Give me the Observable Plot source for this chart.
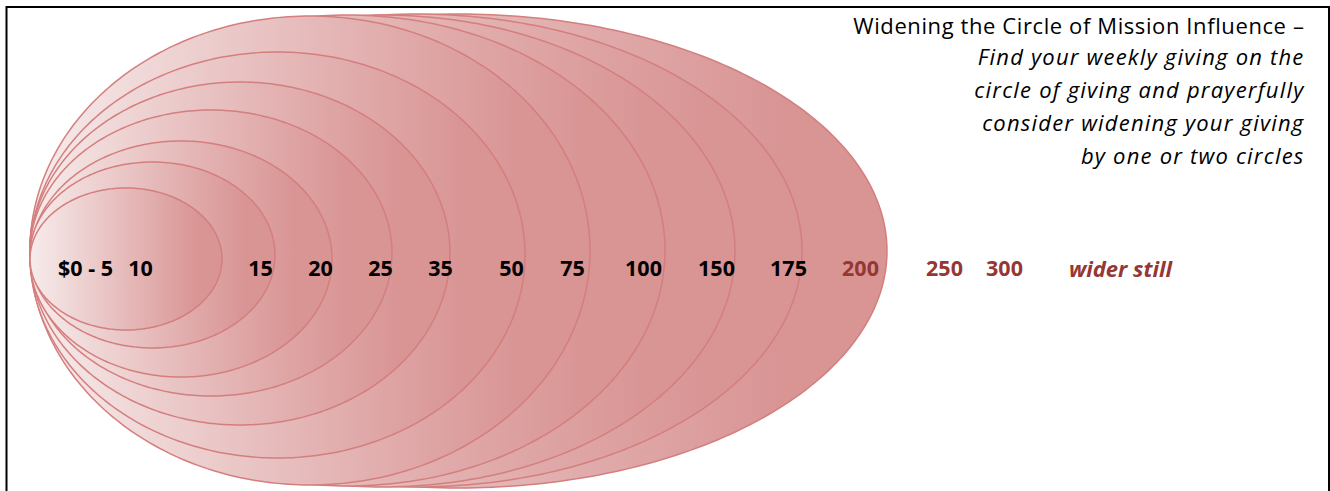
<!DOCTYPE html>
<html>
<head>
<meta charset="utf-8">
<script src="https://cdn.jsdelivr.net/npm/d3@7"></script>
<script src="https://cdn.jsdelivr.net/npm/@observablehq/plot@0.6"></script>
<style>
  html, body { margin: 0; padding: 0; background: #fff; overflow: hidden; }
</style>
</head>
<body>
<div id="chart"></div>
<script>
// ---- data ----
const ringLabels = ["$0 - 5", "10", "15", "20", "25", "35", "50", "75", "100", "150", "175", "200", "250", "300", "wider still"];
const labelX = [85, 140, 260, 320, 380, 440, 511, 572, 643, 716, 788, 860, 944, 1004, 1120];
const highlightedLabels = ["200", "250", "300", "wider still"];

// circles of giving (left tangent point shared)
const ringLeft = 30;
const ringRight  = [222, 275, 332, 392, 450, 525, 590, 665, 735, 802, 887];
const ringTop    = [188, 162, 141, 110, 82, 52, 16, 15, 15, 14, 14];
const ringBottom = [330, 348, 377, 396, 425, 458, 485, 486, 487, 487, 488];

const titleLine = "Widening the Circle of Mission Influence \u2013";
const subtitleLines = [
  "Find your weekly giving on the",
  "circle of giving and prayerfully",
  "consider widening your giving",
  "by one or two circles"
];

// ---- build ellipse outlines (largest drawn first) ----
const N = 160;
const ringPoints = [];
for (let i = ringRight.length - 1; i >= 0; i--) {
  const cx = (ringLeft + ringRight[i]) / 2, rx = (ringRight[i] - ringLeft) / 2;
  const cy = (ringTop[i] + ringBottom[i]) / 2, ry = (ringBottom[i] - ringTop[i]) / 2;
  for (let k = 0; k <= N; k++) {
    const t = Math.PI * k / N;
    ringPoints.push({ring: i, x: cx - rx * Math.cos(t), y1: cy - ry * Math.sin(t), y2: cy + ry * Math.sin(t)});
  }
}
const labelRow = 269;
const labels = ringLabels.map((t, i) => ({label: t, x: labelX[i], y: labelRow, hi: highlightedLabels.includes(t), italic: t === "wider still"}));

const FONT = "'Open Sans', Lato, sans-serif";
const chart = Plot.plot({
  width: 1330,
  height: 491,
  margin: 0,
  x: {domain: [0, 1330], range: [0, 1330], axis: null},
  y: {domain: [0, 491], range: [0, 491], axis: null},
  style: {background: "#fff", fontFamily: FONT},
  marks: [
    Plot.areaY(ringPoints, {x: "x", y1: "y1", y2: "y2", z: "ring", fill: "url(#ringGrad)", stroke: "#d47e7e", strokeWidth: 1.5, curve: "linear"}),
    Plot.text(labels.filter(d => !d.hi), {x: "x", y: "y", text: "label", fill: "#000", fontWeight: "bold", fontSize: 21.5}),
    Plot.text(labels.filter(d => d.hi && !d.italic), {x: "x", y: "y", text: "label", fill: "#953735", fontWeight: "bold", fontSize: 21.5}),
    Plot.text(labels.filter(d => d.italic), {x: "x", y: "y", text: "label", fill: "#953735", fontWeight: "bold", fontStyle: "italic", fontSize: 22}),
    Plot.text([titleLine], {frameAnchor: "top-right", dx: -26, dy: 33, lineAnchor: "bottom", textAnchor: "end", fontSize: 22, fill: "#000"}),
    Plot.text([subtitleLines.join("\n")], {frameAnchor: "top-right", dx: -26, dy: 40.6, lineAnchor: "top", lineHeight: 1.5, textAnchor: "end", fontSize: 22, fontStyle: "italic", fill: "#000"}),
    Plot.frame({stroke: "#000", strokeWidth: 2, insetLeft: 6, insetTop: 6.5, insetRight: 1.5, insetBottom: -12})
  ]
});

const svg = d3.select(chart);
const grad = svg.insert("defs", ":first-child").append("linearGradient")
  .attr("id", "ringGrad").attr("x1", 0).attr("x2", 1).attr("y1", 0).attr("y2", 0);
grad.append("stop").attr("offset", 0).attr("stop-color", "#f7ecec");
grad.append("stop").attr("offset", 0.88).attr("stop-color", "#d99494");
grad.append("stop").attr("offset", 1).attr("stop-color", "#d99494");

const textGroups = svg.selectAll('g[aria-label="text"]').nodes();
d3.select(textGroups[3]).style("letter-spacing", "0.6px");
d3.select(textGroups[4]).style("letter-spacing", "1.2px");

document.getElementById("chart").appendChild(chart);
</script>
</body>
</html>
